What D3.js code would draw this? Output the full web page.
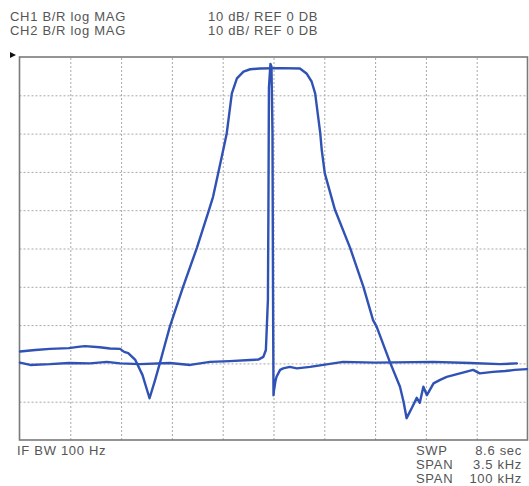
<!DOCTYPE html>
<html>
<head>
<meta charset="utf-8">
<script src="https://cdn.jsdelivr.net/npm/d3@7/dist/d3.min.js"></script>
<style>
  html, body { margin: 0; padding: 0; background: #fff; }
  svg { display: block; }
  text { font-family: "Liberation Sans", Arial, Helvetica, sans-serif; fill: #555; }
</style>
</head>
<body>
<script>
// ---- data (x in screen divisions 0..10, y in dB, 10 dB/div, ref 0 dB at top) ----
const headerLines = ["CH1 B/R log MAG", "CH2 B/R log MAG"];
const scaleLabels = ["10 dB/ REF 0 DB", "10 dB/ REF 0 DB"];
const footerLeft = "IF BW 100 Hz";
const footerKeys = ["SWP", "SPAN", "SPAN"];
const footerVals = ["8.6 sec", "3.5 kHz", "100 kHz"];

const xGridDivs = [1, 2, 3, 4, 5, 6, 7, 8, 9];
const yGridDb = [-10, -20, -30, -40, -50, -60, -70, -80, -90];

// CH1: wide filter response (100 kHz span)
const ch1X = [0.01, 0.31, 0.60, 0.97, 1.15, 1.29, 1.58, 1.78, 1.98, 2.06, 2.14, 2.28, 2.42, 2.56, 2.67, 2.77, 2.86, 2.96,
  3.22, 3.49, 3.72, 3.81, 3.91, 4.01, 4.08, 4.18, 4.28, 4.41, 4.54, 4.73, 5.13, 5.52, 5.65, 5.75, 5.82, 5.92, 5.95,
  6.01, 6.21, 6.51, 6.77, 6.96, 7.03, 7.29, 7.49, 7.56, 7.62, 7.72, 7.82, 7.88, 7.95, 8.02, 8.15, 8.28, 8.41, 8.67,
  8.93, 9.06, 9.32, 9.56, 9.75, 9.99];
const ch1Db = [-76.9, -76.5, -76.2, -76.0, -75.7, -75.5, -75.8, -76.1, -76.2, -77.0, -77.3, -79.1, -83.0, -89.1, -84.3, -79.6, -75.2, -70.4,
  -60.0, -49.9, -40.4, -36.5, -30.4, -24.3, -19.9, -9.5, -5.6, -3.8, -3.2, -3.0, -2.9, -3.0, -4.3, -6.4, -9.5, -19.9, -24.3,
  -30.4, -39.9, -49.9, -60.0, -68.7, -70.4, -79.6, -86.1, -90.0, -94.3, -91.7, -89.0, -90.3, -86.1, -88.3, -85.2, -84.3, -83.5, -82.6,
  -81.7, -82.6, -82.2, -82.0, -81.7, -81.5];

// CH2: narrow response (3.5 kHz span)
const ch2X = [0.01, 0.21, 0.60, 0.97, 1.39, 1.72, 1.98, 2.37, 2.96, 3.36, 3.75, 4.14, 4.54, 4.70, 4.80, 4.85, 4.89, 4.90,
  4.91, 4.94, 4.96, 4.98, 4.99, 5.00, 5.01, 5.04, 5.06, 5.13, 5.19, 5.32, 5.46, 5.72, 6.37, 7.00, 8.14, 8.87, 9.46, 9.79];
const ch2Db = [-79.8, -80.4, -80.2, -79.9, -80.0, -79.6, -80.0, -80.2, -79.9, -80.4, -79.6, -79.4, -79.1, -79.0, -78.3, -76.5, -63.4, -40.0,
  -8.0, -1.8, -2.5, -20.0, -60.0, -88.3, -87.0, -84.5, -83.5, -81.7, -81.3, -80.9, -81.3, -80.9, -79.6, -79.8, -79.6, -79.9, -80.2, -80.0];

// ---- drawing ----
const W = 529, H = 486;
const plot = { left: 19.5, right: 527.5, top: 57, bottom: 440 };

const svg = d3.select("body").append("svg").attr("width", W).attr("height", H);
svg.append("rect").attr("width", W).attr("height", H).attr("fill", "#fff");

const x = d3.scaleLinear().domain([0, 10]).range([plot.left, plot.right]);
const y = d3.scaleLinear().domain([0, -100]).range([plot.top, plot.bottom]);

// grid via axes
const gx = svg.append("g").attr("transform", `translate(0,${plot.bottom})`)
  .call(d3.axisBottom(x).tickValues(xGridDivs).tickSize(-(plot.bottom - plot.top)).tickFormat(""));
const gy = svg.append("g").attr("transform", `translate(${plot.left},0)`)
  .call(d3.axisLeft(y).tickValues(yGridDb).tickSize(-(plot.right - plot.left)).tickFormat(""));
[gx, gy].forEach(g => {
  g.select(".domain").remove();
  g.selectAll(".tick line").attr("stroke", "#a8a8a8").attr("stroke-width", 1).attr("stroke-dasharray", "2,2");
});

// frame
svg.append("rect")
  .attr("x", plot.left).attr("y", plot.top)
  .attr("width", plot.right - plot.left).attr("height", plot.bottom - plot.top)
  .attr("fill", "none").attr("stroke", "#7a7a7a").attr("stroke-width", 1.6);

// reference arrow
svg.append("path").attr("d", `M10,${y(0) - 5} L16,${y(0) - 2} L10,${y(0) + 1} Z`).attr("fill", "#111");

const line = d3.line().x(d => x(d[0])).y(d => y(d[1]));
const traceColor = "#2f52b4";
[[ch2X, ch2Db], [ch1X, ch1Db]].forEach(([xs, ys]) => {
  svg.append("path")
    .datum(d3.zip(xs, ys))
    .attr("d", line)
    .attr("fill", "none")
    .attr("stroke", traceColor)
    .attr("stroke-width", 2.4)
    .attr("stroke-linejoin", "round")
    .attr("stroke-linecap", "round");
});

const fs = 13;
const ls = 0.7;
// header text
headerLines.forEach((t, i) => {
  svg.append("text").attr("x", 10).attr("y", 21 + i * 14).attr("font-size", fs)
    .attr("letter-spacing", ls).text(t);
});
scaleLabels.forEach((t, i) => {
  svg.append("text").attr("x", 208).attr("y", 21 + i * 14).attr("font-size", fs)
    .attr("letter-spacing", ls).text(t);
});

// footer text
svg.append("text").attr("x", 17).attr("y", 455).attr("font-size", fs)
  .attr("letter-spacing", ls).text(footerLeft);
footerKeys.forEach((k, i) => {
  svg.append("text").attr("x", 416).attr("y", 455 + i * 14).attr("font-size", fs)
    .attr("letter-spacing", ls).text(k);
});
footerVals.forEach((v, i) => {
  svg.append("text").attr("x", 522).attr("y", 455 + i * 14).attr("font-size", fs)
    .attr("text-anchor", "end").attr("letter-spacing", ls).text(v);
});
</script>
</body>
</html>
